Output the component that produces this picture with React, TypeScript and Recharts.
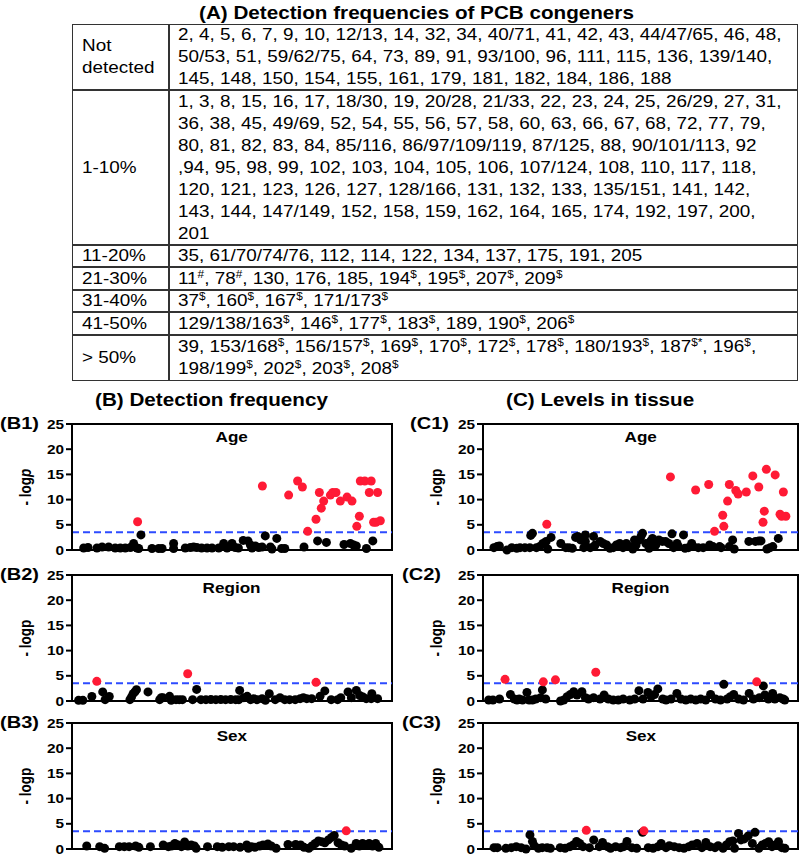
import React from 'react';
import { ScatterChart, Scatter, XAxis, YAxis, ReferenceLine } from 'recharts';

const FONT = '"Liberation Sans", Arial, sans-serif';
const SX = 1.18; // source figure is stretched horizontally
const THRESHOLD = 3.5;
const BLACK = '#000000';
const RED = '#ff1a35';
const BLUE = '#2d4bff';

// table content
const freqLabels = [['Not', 'detected'], ['1-10%'], ['11-20%'], ['21-30%'], ['31-40%'], ['41-50%'], ['> 50%']];
const congenerLines = [
  [
    '2, 4, 5, 6, 7, 9, 10, 12/13, 14, 32, 34, 40/71, 41, 42, 43, 44/47/65, 46, 48,',
    '50/53, 51, 59/62/75, 64, 73, 89, 91, 93/100, 96, 111, 115, 136, 139/140,',
    '145, 148, 150, 154, 155, 161, 179, 181, 182, 184, 186, 188',
  ],
  [
    '1, 3, 8, 15, 16, 17, 18/30, 19, 20/28, 21/33, 22, 23, 24, 25, 26/29, 27, 31,',
    '36, 38, 45, 49/69, 52, 54, 55, 56, 57, 58, 60, 63, 66, 67, 68, 72, 77, 79,',
    '80, 81, 82, 83, 84, 85/116, 86/97/109/119, 87/125, 88, 90/101/113, 92',
    ',94, 95, 98, 99, 102, 103, 104, 105, 106, 107/124, 108, 110, 117, 118,',
    '120, 121, 123, 126, 127, 128/166, 131, 132, 133, 135/151, 141, 142,',
    '143, 144, 147/149, 152, 158, 159, 162, 164, 165, 174, 192, 197, 200,',
    '201',
  ],
  ['35, 61/70/74/76, 112, 114, 122, 134, 137, 175, 191, 205'],
  ['11^#, 78^#, 130, 176, 185, 194^$, 195^$, 207^$, 209^$'],
  ['37^$, 160^$, 167^$, 171/173^$'],
  ['129/138/163^$, 146^$, 177^$, 183^$, 189, 190^$, 206^$'],
  [
    '39, 153/168^$, 156/157^$, 169^$, 170^$, 172^$, 178^$, 180/193^$, 187^$*, 196^$,',
    '198/199^$, 202^$, 203^$, 208^$',
  ],
];
const rowEdges = [24, 90, 245, 267, 290, 312, 335, 381];

// [congener position, -log p]
const b1Points: [number, number][] = [
  [7.3, 0.4], [10, 0.5], [15.6, 0.4], [18.8, 0.6], [22.9, 0.6], [27, 0.4], [30.2, 0.4], [33.3, 0.4],
  [36.5, 0.5], [38.5, 1.3], [40.6, 0.4], [41, 5.6], [41.7, 0.3], [43.1, 3.0], [50, 0.3], [54.2, 0.3],
  [56.3, 0.3], [63.5, 1.3], [63.5, 0.3], [70.8, 0.4], [74, 0.5], [76, 0.6], [78, 0.5], [81, 0.4],
  [84.4, 0.4], [87.5, 0.4], [91.7, 0.4], [94.8, 1.3], [96.9, 0.4], [100, 1.3], [102, 0.5], [104, 0.4],
  [107, 1.9], [110, 1.8], [111.5, 1.0], [112.5, 0.4], [114.6, 0.8], [116.7, 0.5], [118.8, 0.6],
  [119, 12.7], [120.8, 2.8], [124, 0.6], [125, 0.2], [128, 2.3], [131, 0.3], [133, 0.3], [135.4, 10.9],
  [141, 13.7], [144, 12.5], [145, 0.6], [147.3, 3.7], [152.5, 6.1], [153.5, 1.8], [154.6, 11.4],
  [155.8, 8.3], [157.3, 9.7], [159, 1.5], [161.5, 10.9], [163, 11.4], [165, 11.4], [167.7, 9.7],
  [170, 1.1], [171.9, 10.5], [174, 1.3], [175, 9.7], [176, 1.0], [177.7, 0.8], [178, 4.7], [179.6, 6.7],
  [180.2, 13.7], [183, 13.7], [184, 0.3], [185.8, 11.4], [187, 13.7], [188, 1.8], [188.5, 5.5],
  [190, 5.5], [191, 11.4], [192.7, 5.8],
];

const b2Points: [number, number][] = [
  [4.1, 0.13], [6.8, 0.13], [12.4, 0.9], [15.5, 3.9], [19.2, 1.8], [20.7, 0.26], [23.3, 0.9],
  [36.2, 0.26], [37.2, 0.8], [38.2, 1.46], [39.3, 1.8], [40.3, 2.25], [47.5, 1.8], [54.8, 0.26],
  [55.8, 0.66], [56.8, 0.66], [61, 0.93], [62, 0.13], [65, 0.26], [67, 0.26], [69, 0.26], [72.3, 5.4],
  [75.4, 0.26], [77.9, 2.3], [80.6, 0.26], [83.7, 0.26], [86.8, 0.3], [89.9, 0.26], [93, 0.3],
  [96, 0.26], [99.2, 0.3], [102.3, 0.26], [104.3, 0.26], [104.8, 2.1], [107.4, 0.66], [109.5, 0.93],
  [111.6, 0.26], [113.6, 0.46], [115.7, 0.26], [118.8, 0.46], [120.9, 0.13], [123.3, 1.46], [127, 0.26],
  [130, 0.66], [133, 0.26], [136, 0.26], [139.5, 0.26], [142.6, 0.46], [144.6, 0.66], [146.7, 0.46],
  [149.8, 0.46], [152.5, 3.7], [155, 0.93], [158, 2.0], [162, 0.26], [166, 0.26], [168, 0.66],
  [172.5, 1.8], [174.6, 0.66], [177.7, 2.1], [179.8, 1.1], [181.8, 0.8], [183.9, 0.46], [187, 0.46],
  [187.4, 1.46], [191, 0.46],
];

const b3Points: [number, number][] = [
  [9.2, 0.6], [17.3, 0.46], [20.4, 0.13], [29.6, 0.46], [32.7, 0.46], [35.7, 0.46], [39.8, 0.6],
  [41.8, 0.33], [49, 0.46], [57, 0.8], [60.2, 0.46], [62.2, 0.6], [64.3, 1.1], [66.3, 0.8], [68.4, 0.46],
  [70.4, 1.4], [72.4, 0.6], [74.5, 0.8], [76.5, 0.6], [77.6, 0.13], [84.7, 0.46], [90.8, 0.46],
  [93.9, 0.33], [98, 0.46], [101, 0.46], [105, 0.33], [109.2, 0.8], [110.2, 0.13], [112.2, 0.46],
  [114.3, 0.33], [117.3, 0.6], [119.4, 0.8], [122.4, 1.0], [124.5, 0.6], [127.6, 0.13], [135, 0.9],
  [139.8, 0.9], [142.9, 0.8], [145, 0.33], [148, 0.13], [150, 0.6], [152, 1.1], [154, 1.6], [156, 1.45],
  [158, 1.25], [160.2, 1.8], [162.2, 2.3], [163.9, 2.7], [166.3, 1.25], [168.4, 0.8], [170.4, 0.6],
  [171.4, 3.6], [174.5, 0.13], [177.6, 1.1], [179.6, 0.6], [181.6, 1.1], [183.7, 0.8], [185.7, 1.1],
  [187.8, 0.6], [189.8, 1.1], [191.8, 0.33],
];

const c1Points: [number, number][] = [
  [6.9, 0.47], [8.9, 0.67], [10.4, 0.8], [15.2, 0], [18.3, 0.47], [21.4, 0.33], [23.5, 0.47], [26.6, 0.47],
  [29.7, 0.47], [30.3, 2.9], [31.4, 3.3], [33.9, 0.47], [36, 0.67], [38, 1.3], [40.1, 1.7], [40.5, 5.1],
  [41.1, 0.2], [43.2, 2.5], [49.4, 1.3], [52.6, 0.47], [54.6, 0.47], [56.7, 0.33], [58.8, 2.5], [60.2, 2.7],
  [61.9, 2.0], [64, 0.47], [65, 3.0], [65, 1.7], [68.1, 0.47], [70.2, 2.7], [71.2, 1.0], [74.4, 1.7],
  [76.4, 1.3], [78.5, 1.0], [80.6, 0.33], [82.7, 0.47], [84.7, 1.0], [86.8, 1.3], [88.9, 0.47], [91, 1.3],
  [93, 0.67], [95.1, 0.2], [96.2, 2.0], [97.2, 1.0], [99.3, 2.0], [100.3, 2.7], [101.3, 3.3], [103.4, 1.3],
  [105.5, 0.33], [106.5, 1.8], [107.6, 2.3], [109.7, 1.0], [111.7, 2.0], [113.8, 1.7], [115.9, 1.7],
  [118, 1.3], [119, 14.5], [120, 3.2], [121, 0.47], [123.2, 1.3], [124.2, 0.67], [127.3, 3.0], [128.3, 0.33],
  [130.4, 0.47], [132.5, 1.3], [133.5, 0.67], [135, 11.9], [136.7, 0.47], [139.8, 0.47], [143.3, 13],
  [143.9, 1.0], [146, 0.67], [147, 3.7], [150.2, 0.67], [151.2, 0.47], [152.2, 6.9], [152.9, 4.7],
  [155.3, 9.7], [156.4, 13], [156.4, 0.67], [158.5, 2.0], [159.5, 0.2], [160.5, 11.8], [162, 11.1],
  [167.2, 11.5], [168.8, 1.7], [171.3, 14.7], [173, 1.7], [175.1, 12.5], [175.1, 1.8], [176.5, 1.8],
  [177.8, 5.5], [178.6, 7.7], [179.9, 16], [180.3, 0.2], [182.3, 0.47], [184, 0.67], [185.5, 14.9],
  [187.5, 2.3], [188.6, 7.1], [189.6, 6.7], [190.7, 11.5], [192.3, 6.7],
];

const c2Points: [number, number][] = [
  [3.6, 0.2], [6.3, 0.2], [10.5, 0.4], [14, 4.3], [17.4, 1.3], [19.9, 0.4], [21.6, 0.2], [23, 0.4],
  [25.1, 0.2], [27.9, 1.7], [29.3, 0.2], [31.4, 0.2], [33.5, 0.4], [36.6, 0.66], [37.7, 2.2], [38.3, 3.8],
  [39.8, 0.4], [46, 4.2], [49.2, 0], [51.3, 0.2], [53.4, 0.86], [55.5, 1.3], [57.6, 1.85], [59.7, 1.2],
  [62.8, 1.85], [65, 0.66], [67, 0.4], [70.2, 0.66], [71.6, 5.7], [74.3, 0.4], [76.9, 1.2], [79.6, 0.4],
  [82.7, 0.2], [85.9, 0.2], [89, 0.4], [93.2, 0.2], [96.3, 0.4], [99, 2.05], [101.6, 0.4], [104.7, 1.7],
  [106.8, 0.86], [108.9, 1.3], [111, 2.4], [114.1, 0.4], [116.2, 0.2], [119.4, 0.4], [123.1, 1.5],
  [125.7, 0.4], [128.8, 0.2], [131.9, 0.4], [135.1, 0.2], [138.2, 0.4], [141.4, 0.2], [144.5, 1.3],
  [147.6, 0.4], [150.8, 0.2], [152.9, 3.3], [155, 0.4], [157, 0.86], [159.2, 1.3], [162.3, 0.4],
  [165.4, 0.2], [169, 1.5], [171.7, 0.4], [173.8, 3.8], [175.5, 0.66], [178, 3.0], [179, 1.2], [181.2, 0.4],
  [183.9, 1.5], [185.3, 0.4], [188.5, 0.66], [190.6, 0.4], [191.6, 0.2],
];

const c3Points: [number, number][] = [
  [7, 0.26], [9.1, 0.26], [14.5, 0.13], [18, 0.26], [21.1, 0.46], [24.2, 0.26], [27.3, 0], [29.8, 2.8],
  [31.4, 1.5], [32.5, 0.66], [35.2, 0.13], [37.6, 0.26], [40.7, 0.26], [42.8, 0.13], [49, 0.26],
  [52.1, 0.13], [55.2, 0.46], [57.3, 0.8], [59.4, 1.5], [61.4, 1.1], [63.5, 0.46], [65.6, 3.7], [67.6, 0.26],
  [70.3, 1.8], [73.8, 0.46], [75.9, 1.3], [79, 0.46], [81, 0.13], [84.2, 0.46], [87.3, 0.26], [89.3, 0.46],
  [91.4, 1.5], [94.5, 0.26], [97.6, 0.13], [101.3, 3.3], [102.2, 3.6], [104.9, 0.26], [108, 0.13],
  [111.1, 0.46], [113.1, 1.1], [116.2, 0.26], [118.3, 0.66], [121.4, 0.46], [124.5, 0.26], [127.6, 0.13],
  [130.7, 0.46], [132.8, 0.8], [135.9, 1.1], [139, 0.26], [141.5, 1.3], [144.2, 0.46], [147.3, 0.26],
  [149.3, 0.66], [152.4, 0.13], [154.5, 0.8], [156.6, 1.45], [158.6, 1.6], [159.7, 0.13], [162.2, 3.1],
  [163.8, 1.8], [165.9, 2.0], [168.4, 2.6], [171, 1.1], [172.7, 3.3], [175.2, 0.13], [177.3, 0.8],
  [179.3, 1.1], [181.4, 1.45], [183.5, 0.46], [185.5, 0.8], [187.6, 1.45], [189.7, 0.26], [191.7, 0.13],
];

const yTicks = [0, 5, 10, 15, 20, 25];
const X_MAX = 200;
const Y_MAX = 25;
const PLOT_H = 126;

function renderLine(line: string, key: number) {
  const parts = line.split(/\^([#$*]+)/);
  return (
    <div key={key} style={{ whiteSpace: 'nowrap', transform: `scaleX(${SX})`, transformOrigin: 'left center' }}>
      {parts.map((p, i) =>
        i % 2 === 1 ? (
          <sup key={i} style={{ fontSize: 10, lineHeight: 0, verticalAlign: 'super' }}>{p}</sup>
        ) : (
          <span key={i}>{p}</span>
        )
      )}
    </div>
  );
}

function Table() {
  const left = 72, col = 169, right = 798;
  const top = rowEdges[0], bottom = rowEdges[rowEdges.length - 1];
  const line = '#333';
  return (
    <>
      <div style={{ position: 'absolute', left, top, width: right - left, height: bottom - top, border: `1.5px solid ${line}`, boxSizing: 'border-box' }} />
      <div style={{ position: 'absolute', left: col - 0.75, top, width: 1.5, height: bottom - top, background: line }} />
      {rowEdges.slice(1, -1).map((y) => (
        <div key={y} style={{ position: 'absolute', left, top: y - 0.75, width: right - left, height: 1.5, background: line }} />
      ))}
      {freqLabels.map((lab, i) => {
        const rt = rowEdges[i], rh = rowEdges[i + 1] - rowEdges[i];
        const box = { position: 'absolute' as const, top: rt, height: rh, display: 'flex', flexDirection: 'column' as const, justifyContent: 'center', fontSize: 16, lineHeight: '22px' };
        return (
          <React.Fragment key={i}>
            <div style={{ ...box, left: 82 }}>{lab.map((t, j) => renderLine(t, j))}</div>
            <div style={{ ...box, left: 178 }}>{congenerLines[i].map((t, j) => renderLine(t, j))}</div>
          </React.Fragment>
        );
      })}
    </>
  );
}

const YTick = (props: any) => {
  const { x, y, payload } = props;
  return (
    <g transform={`translate(${x},${y})`}>
      <text transform={`scale(${SX},1)`} textAnchor="end" dy="0.36em" fontFamily={FONT} fontWeight="bold" fontSize={13} fill="#000">
        {payload.value}
      </text>
    </g>
  );
};

const Dot = (props: any) => <circle cx={props.cx} cy={props.cy} r={4.5} fill={props.fill} />;

function Frame({ left, top, width, height }: any) {
  const s = { position: 'absolute' as const, background: '#000' };
  return (
    <>
      <div style={{ ...s, left: left - 1, top: top - 1, width: width + 2, height: 2 }} />
      <div style={{ ...s, left: left - 1, top: top + height - 1, width: width + 2, height: 2 }} />
      <div style={{ ...s, left: left - 1, top: top - 1, width: 2, height: height + 2 }} />
      <div style={{ ...s, left: left + width - 1, top: top - 1, width: 2, height: height + 2 }} />
    </>
  );
}

function Panel({ points, left, top, width, title, tag, tagLeft, italicP }: any) {
  const black = points.filter((p: number[]) => p[1] <= THRESHOLD).map(([x, y]: number[]) => ({ x, y }));
  const red = points.filter((p: number[]) => p[1] > THRESHOLD).map(([x, y]: number[]) => ({ x, y }));
  const axisW = 72;
  return (
    <>
      <Frame left={left} top={top} width={width} height={PLOT_H} />
      <div style={{ position: 'absolute', left: left - axisW, top: top - 10, width: width + axisW + 4, height: PLOT_H + 20 }}>
        <ScatterChart width={width + axisW + 4} height={PLOT_H + 20} margin={{ top: 10, right: 4, bottom: 10, left: 0 }}>
          <XAxis type="number" dataKey="x" domain={[0, X_MAX]} hide />
          <YAxis
            type="number"
            dataKey="y"
            domain={[0, Y_MAX]}
            ticks={yTicks}
            interval={0}
            width={axisW}
            tick={YTick}
            tickSize={6}
            tickMargin={2}
            axisLine={{ stroke: '#000', strokeWidth: 2 }}
            tickLine={{ stroke: '#000', strokeWidth: 2 }}
          />
          <ReferenceLine y={Y_MAX} stroke="#000" strokeWidth={2} ifOverflow="visible" />
          <ReferenceLine x={X_MAX} stroke="#000" strokeWidth={2} ifOverflow="visible" />
          <ReferenceLine y={THRESHOLD} stroke={BLUE} strokeWidth={2} strokeDasharray="7 4" />
          <Scatter data={black} fill={BLACK} shape={Dot} isAnimationActive={false} />
          <Scatter data={red} fill={RED} shape={Dot} isAnimationActive={false} />
        </ScatterChart>
      </div>
      <div style={{ position: 'absolute', left, width, top: top + 4, textAlign: 'center', fontWeight: 'bold', fontSize: 14.5, lineHeight: '18px' }}>
        <span style={{ display: 'inline-block', transform: `scaleX(${SX})` }}>{title}</span>
      </div>
      <div style={{ position: 'absolute', left: left - 46 - 40, top: top + 63 - 10, width: 80, height: 20, lineHeight: '20px', textAlign: 'center', fontWeight: 'bold', fontSize: 13.5, transform: `rotate(-90deg) scaleY(${SX})` }}>
        - log{italicP ? <i>p</i> : 'p'}
      </div>
      <div style={{ position: 'absolute', left: tagLeft, top: top - 11, lineHeight: '22px', fontWeight: 'bold', fontSize: 17, whiteSpace: 'nowrap', transform: `scaleX(${SX})`, transformOrigin: 'left center' }}>
        {tag}
      </div>
    </>
  );
}

const titleStyle = { position: 'absolute' as const, fontWeight: 'bold', fontSize: 17.5, lineHeight: '22px', whiteSpace: 'nowrap' as const, transform: `scaleX(${SX})`, transformOrigin: 'left center' };

export default function App() {
  const bL = 72, bW = 320, cL = 483, cW = 315;
  const tops = [424, 575, 723];
  return (
    <div style={{ position: 'absolute', left: 0, top: 0, width: 802, height: 857, background: '#fff', fontFamily: FONT, color: '#000', overflow: 'hidden' }}>
      <div style={{ ...titleStyle, left: 199, top: 2 }}>(A) Detection frequencies of PCB congeners</div>
      <Table />
      <div style={{ ...titleStyle, left: 95, top: 389 }}>(B) Detection frequency</div>
      <div style={{ ...titleStyle, left: 506, top: 389 }}>(C) Levels in tissue</div>
      <Panel points={b1Points} left={bL} top={tops[0]} width={bW} title="Age" tag="(B1)" tagLeft={0} italicP />
      <Panel points={b2Points} left={bL} top={tops[1]} width={bW} title="Region" tag="(B2)" tagLeft={0} />
      <Panel points={b3Points} left={bL} top={tops[2]} width={bW} title="Sex" tag="(B3)" tagLeft={0} />
      <Panel points={c1Points} left={cL} top={tops[0]} width={cW} title="Age" tag="(C1)" tagLeft={410} />
      <Panel points={c2Points} left={cL} top={tops[1]} width={cW} title="Region" tag="(C2)" tagLeft={402} />
      <Panel points={c3Points} left={cL} top={tops[2]} width={cW} title="Sex" tag="(C3)" tagLeft={402} />
    </div>
  );
}
